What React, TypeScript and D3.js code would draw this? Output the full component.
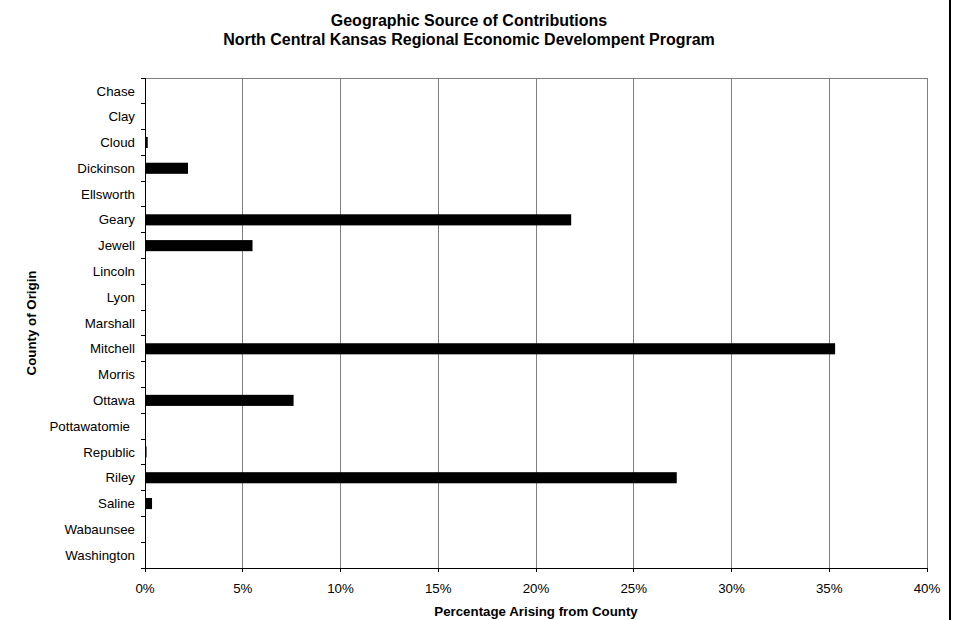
import React, { useEffect, useRef } from "react";
import * as d3 from "d3";

const counties = [
  "Chase", "Clay", "Cloud", "Dickinson", "Ellsworth", "Geary", "Jewell", "Lincoln", "Lyon", "Marshall",
  "Mitchell", "Morris", "Ottawa", "Pottawatomie", "Republic", "Riley", "Saline", "Wabaunsee", "Washington",
];
const shares = [0, 0, 0.14, 2.2, 0, 21.8, 5.5, 0, 0, 0, 35.3, 0, 7.6, 0, 0.08, 27.2, 0.36, 0, 0];
const xTicks = [0, 5, 10, 15, 20, 25, 30, 35, 40];

const font = "Arial, 'Liberation Sans', sans-serif";
const labelSize = 13.3;

function drawChart(svgEl: SVGSVGElement) {
  const svg = d3.select(svgEl);
  svg.selectAll("*").remove();

  const left = 145, right = 927, top = 78, bottom = 568;

  const x = d3.scaleLinear().domain([0, 40]).range([left, right]);
  const y = d3.scaleBand().domain(counties).range([top, bottom]).paddingInner(0.57).paddingOuter(0.285);
  const band = d3.scaleBand().domain(counties).range([top, bottom]);

  // frame line on the right
  svg.append("line")
    .attr("x1", 950).attr("x2", 950).attr("y1", 0).attr("y2", 620)
    .attr("stroke", "#000").attr("stroke-width", 2);

  // titles
  const title = svg.append("text")
    .attr("text-anchor", "middle")
    .attr("font-family", font).attr("font-size", 16).attr("font-weight", "bold");
  title.append("tspan").attr("x", 469).attr("y", 26).text("Geographic Source of Contributions");
  title.append("tspan").attr("x", 469).attr("y", 45).text("North Central Kansas Regional Economic Develompent Program");

  // gridlines
  svg.append("g").selectAll("line")
    .data(xTicks.slice(1))
    .join("line")
    .attr("x1", (d) => x(d)).attr("x2", (d) => x(d))
    .attr("y1", top).attr("y2", bottom)
    .attr("stroke", "#808080").attr("stroke-width", 1)
    .attr("shape-rendering", "crispEdges");
  svg.append("line")
    .attr("x1", left).attr("x2", right).attr("y1", top).attr("y2", top)
    .attr("stroke", "#808080").attr("shape-rendering", "crispEdges");

  // bars
  svg.append("g").selectAll("rect")
    .data(shares.map((v, i) => ({ c: counties[i], v })).filter((d) => d.v > 0))
    .join("rect")
    .attr("x", x(0))
    .attr("y", (d) => y(d.c)!)
    .attr("width", (d) => x(d.v) - x(0))
    .attr("height", y.bandwidth())
    .attr("fill", "#000");

  // y axis
  const yAxis = svg.append("g").attr("font-family", font).attr("font-size", labelSize);
  yAxis.append("line")
    .attr("x1", left).attr("x2", left).attr("y1", top).attr("y2", bottom)
    .attr("stroke", "#000").attr("shape-rendering", "crispEdges");
  yAxis.selectAll("line.tick")
    .data(d3.range(counties.length + 1))
    .join("line")
    .attr("class", "tick")
    .attr("x1", left - 4).attr("x2", left)
    .attr("y1", (i) => top + i * band.step()).attr("y2", (i) => top + i * band.step())
    .attr("stroke", "#000").attr("shape-rendering", "crispEdges");
  yAxis.selectAll("text")
    .data(counties)
    .join("text")
    .attr("x", (d) => (d === "Pottawatomie" ? left - 15 : left - 10))
    .attr("y", (d) => band(d)! + band.step() / 2)
    .attr("dy", "0.35em")
    .attr("text-anchor", "end")
    .text((d) => d);

  // x axis
  const xAxis = svg.append("g").attr("font-family", font).attr("font-size", labelSize);
  xAxis.append("line")
    .attr("x1", left).attr("x2", right).attr("y1", bottom).attr("y2", bottom)
    .attr("stroke", "#000").attr("shape-rendering", "crispEdges");
  xAxis.selectAll("line.tick")
    .data(xTicks)
    .join("line")
    .attr("class", "tick")
    .attr("x1", (d) => x(d)).attr("x2", (d) => x(d))
    .attr("y1", bottom).attr("y2", bottom + 4)
    .attr("stroke", "#000").attr("shape-rendering", "crispEdges");
  xAxis.selectAll("text")
    .data(xTicks)
    .join("text")
    .attr("x", (d) => x(d))
    .attr("y", bottom + 25)
    .attr("text-anchor", "middle")
    .text((d) => d + "%");

  // axis titles
  svg.append("text")
    .attr("x", (left + right) / 2).attr("y", 616)
    .attr("text-anchor", "middle")
    .attr("font-family", font).attr("font-size", labelSize).attr("font-weight", "bold")
    .text("Percentage Arising from County");
  svg.append("text")
    .attr("transform", `translate(36, ${(top + bottom) / 2}) rotate(-90)`)
    .attr("text-anchor", "middle")
    .attr("font-family", font).attr("font-size", labelSize).attr("font-weight", "bold")
    .text("County of Origin");
}

export default function App() {
  const svgEl = useRef<SVGSVGElement>(null);

  useEffect(() => {
    if (!svgEl.current) return;
    drawChart(svgEl.current);
  }, []);

  return (
    <svg
      ref={svgEl}
      width={964}
      height={620}
      style={{ position: "absolute", left: 0, top: 0, background: "#fff" }}
    />
  );
}
